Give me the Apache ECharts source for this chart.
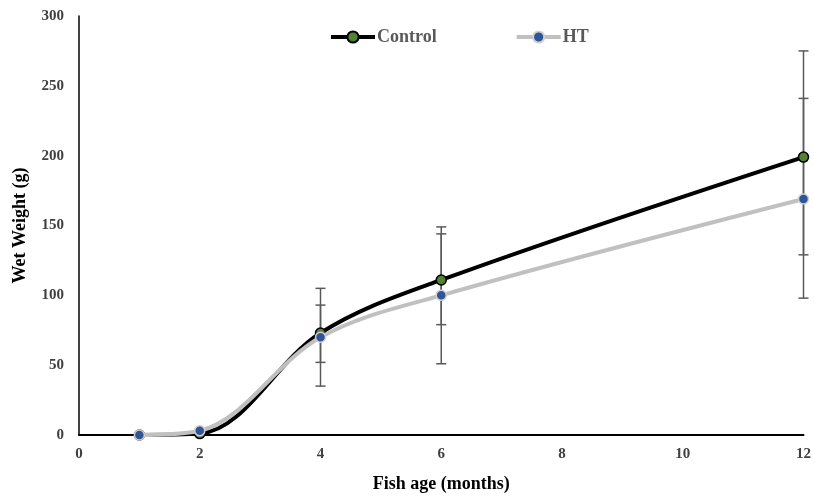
<!DOCTYPE html>
<html>
<head>
<meta charset="utf-8">
<script src="https://cdn.jsdelivr.net/npm/echarts@6/dist/echarts.min.js"></script>
<style>
html,body{margin:0;padding:0;background:#fff;}
#main{width:814px;height:498px;}
</style>
</head>
<body>
<div id="main"></div>
<script>
// fish age (months)
var months = [1, 2, 4, 6, 12];
// wet weight means
var control = [0, 1, 73, 111, 199];
var ht = [0, 3, 70, 100, 169];
// error bar ends
var controlLow = [0, 1, 35, 51, 98];
var controlHigh = [0, 1, 105, 149, 275];
var htLow = [0, 3, 52, 79, 129];
var htHigh = [0, 3, 93, 144, 241];
var yTicks = [0, 50, 100, 150, 200, 250, 300];

var font = '"Liberation Serif", "Times New Roman", serif';

function pairs(ys){
    return months.map(function(m, i){ return [m, ys[i]]; });
}
function errData(lo, hi){
    return months.map(function(m, i){ return [m, lo[i], hi[i]]; });
}
function errRender(params, api){
    var x = api.value(0);
    var lo = api.coord([x, api.value(1)]);
    var hi = api.coord([x, api.value(2)]);
    if (Math.abs(hi[1] - lo[1]) < 1) return null;
    var w = 5;
    var st = {stroke: '#595959', lineWidth: 1.5};
    return {
        type: 'group',
        children: [
            {type: 'line', shape: {x1: lo[0], y1: lo[1], x2: hi[0], y2: hi[1]}, style: st},
            {type: 'line', shape: {x1: lo[0]-w, y1: lo[1], x2: lo[0]+w, y2: lo[1]}, style: st},
            {type: 'line', shape: {x1: hi[0]-w, y1: hi[1], x2: hi[0]+w, y2: hi[1]}, style: st}
        ]
    };
}

var chart = echarts.init(document.getElementById('main'));
var option = {
    animation: false,
    textStyle: {fontFamily: font},
    grid: {left: 79, right: 8, top: 16, bottom: 62},
    legend: {
        left: 324,
        top: 23,
        itemWidth: 44,
        itemHeight: 14,
        itemGap: 78,
        data: ['Control', 'HT'],
        lineStyle: {width: 4},
        textStyle: {fontFamily: font, fontWeight: 'bold', fontSize: 18, color: '#595959', padding: [0, 0, 0, -3]}
    },
    xAxis: {
        type: 'value',
        min: 0, max: 12, interval: 2,
        name: 'Fish age (months)',
        nameLocation: 'middle',
        nameGap: 40,
        nameTextStyle: {fontFamily: font, fontWeight: 'bold', fontSize: 18, color: '#000'},
        axisLine: {lineStyle: {color: '#000', width: 2}},
        axisTick: {show: false},
        splitLine: {show: false},
        axisLabel: {fontFamily: font, fontWeight: 'bold', fontSize: 15, color: '#404040', margin: 12}
    },
    yAxis: {
        type: 'value',
        min: 0, max: 300, interval: 50,
        name: 'Wet Weight (g)',
        nameLocation: 'middle',
        nameGap: 50,
        nameTextStyle: {fontFamily: font, fontWeight: 'bold', fontSize: 18, color: '#000'},
        axisLine: {show: true, lineStyle: {color: '#000', width: 1.5}},
        axisTick: {show: false},
        splitLine: {show: false},
        axisLabel: {
            fontFamily: font, fontWeight: 'bold', fontSize: 15, color: '#404040', margin: 15,
            formatter: function(v){ return yTicks.indexOf(v) >= 0 ? v : ''; }
        }
    },
    series: [
        {
            type: 'custom',
            renderItem: errRender,
            data: errData(controlLow, controlHigh),
            z: 1,
            silent: true
        },
        {
            type: 'custom',
            renderItem: errRender,
            data: errData(htLow, htHigh),
            z: 1,
            silent: true
        },
        {
            name: 'Control',
            type: 'line',
            smooth: 0.35,
            data: pairs(control),
            symbol: 'circle',
            symbolSize: 10,
            lineStyle: {color: '#000', width: 4},
            itemStyle: {color: '#548235', borderColor: '#000', borderWidth: 1.5},
            z: 3
        },
        {
            name: 'HT',
            type: 'line',
            smooth: 0.35,
            data: pairs(ht),
            symbol: 'circle',
            symbolSize: 10,
            lineStyle: {color: '#c0c0c0', width: 4},
            itemStyle: {color: '#2f5597', borderColor: '#d0d0d0', borderWidth: 1.5},
            z: 4
        }
    ]
};
chart.setOption(option);
window.addEventListener('resize', function(){
    chart.resize();
});
</script>
</body>
</html>
